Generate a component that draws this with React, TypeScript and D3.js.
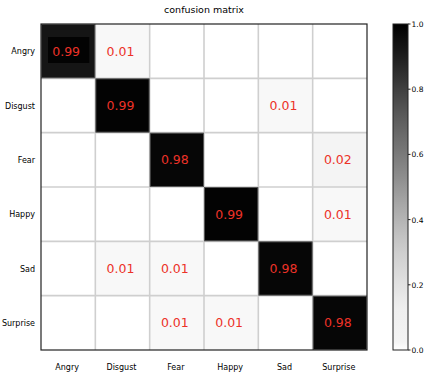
import React from "react";
import * as d3 from "d3";

const labels = ["Angry", "Disgust", "Fear", "Happy", "Sad", "Surprise"];
const matrix = [
  [0.99, 0.01, 0, 0, 0, 0],
  [0, 0.99, 0, 0, 0.01, 0],
  [0, 0, 0.98, 0, 0, 0.02],
  [0, 0, 0, 0.99, 0, 0.01],
  [0, 0.01, 0.01, 0, 0.98, 0],
  [0, 0, 0.01, 0.01, 0, 0.98],
];
const cbarTicks = [0, 0.2, 0.4, 0.6, 0.8, 1.0];

const W = 426;
const H = 379;
const plot = { left: 41, top: 24, right: 367, bottom: 350 };
const cbar = { left: 393, right: 408 };
const FONT = "DejaVu Sans, sans-serif";

// Greys colormap, with the low end stretched so faint cells still read as tinted
const lowEnd = d3
  .scaleLinear<string>()
  .domain([0, 0.01, 0.02, 0.125])
  .range(["#ffffff", "#f8f8f8", "#f4f4f4", d3.interpolateGreys(0.125)])
  .interpolate(d3.interpolateRgb);
const color = (v: number) => (v < 0.125 ? lowEnd(v) : d3.interpolateGreys(v));

export default function App() {
  const x = d3.scaleBand<string>().domain(labels).range([plot.left, plot.right]);
  const y = d3.scaleBand<string>().domain(labels).range([plot.top, plot.bottom]);
  const cy = d3.scaleLinear().domain([0, 1]).range([plot.bottom, plot.top]);
  const bw = x.bandwidth();
  const bh = y.bandwidth();

  const stops = d3.range(0, 1.0001, 0.025);

  return (
    <svg
      width={W}
      height={H}
      style={{ position: "absolute", left: 0, top: 0, background: "#fff" }}
      fontFamily={FONT}
    >
      <defs>
        <linearGradient id="cbarGrad" x1="0" y1="1" x2="0" y2="0">
          {stops.map((s) => (
            <stop key={s} offset={s} stopColor={color(s)} />
          ))}
        </linearGradient>
      </defs>

      <text x={(plot.left + plot.right) / 2} y={13} textAnchor="middle" fontSize={9.5} fill="#000">
        confusion matrix
      </text>

      {/* cells */}
      {matrix.map((row, i) =>
        row.map((v, j) => (
          <rect
            key={`c${i}-${j}`}
            x={x(labels[j])}
            y={y(labels[i])}
            width={bw}
            height={bh}
            fill={color(i === 0 && j === 0 ? 0.93 : v)}
          />
        ))
      )}

      {/* grid lines between cells */}
      {labels.slice(1).map((l) => (
        <g key={`g${l}`}>
          <line x1={x(l)} x2={x(l)} y1={plot.top} y2={plot.bottom} stroke="#cfcfcf" strokeWidth={1.6} />
          <line x1={plot.left} x2={plot.right} y1={y(l)} y2={y(l)} stroke="#cfcfcf" strokeWidth={1.6} />
        </g>
      ))}

      {/* dark cells drawn over the grid */}
      {matrix.map((row, i) =>
        row.map((v, j) =>
          v > 0.5 ? (
            <rect
              key={`d${i}-${j}`}
              x={(x(labels[j]) as number) + 0.5}
              y={(y(labels[i]) as number) + 0.5}
              width={bw - 1}
              height={bh - 1}
              fill={color(i === 0 && j === 0 ? 0.93 : v)}
              stroke="#555"
              strokeWidth={1}
            />
          ) : null
        )
      )}

      {/* text background box on the first cell */}
      <rect
        x={(x(labels[0]) as number) + 7}
        y={(y(labels[0]) as number) + 13}
        width={bw - 13}
        height={26}
        fill="#030303"
      />

      {/* frame */}
      <rect
        x={plot.left}
        y={plot.top}
        width={plot.right - plot.left}
        height={plot.bottom - plot.top}
        fill="none"
        stroke="#222"
        strokeWidth={1.2}
      />

      {/* values */}
      {matrix.map((row, i) =>
        row.map((v, j) =>
          v > 0 ? (
            <text
              key={`t${i}-${j}`}
              x={(x(labels[j]) as number) + bw / 2 - 2}
              y={(y(labels[i]) as number) + bh / 2 + 4.5}
              textAnchor="middle"
              fontSize={12.5}
              fill="#ec3228"
            >
              {v.toFixed(2)}
            </text>
          ) : null
        )
      )}

      {/* y labels */}
      {labels.map((l) => (
        <text
          key={`yl${l}`}
          x={plot.left - 6}
          y={(y(l) as number) + bh / 2 + 3}
          textAnchor="end"
          fontSize={8}
          fill="#000"
        >
          {l}
        </text>
      ))}

      {/* x labels */}
      {labels.map((l) => (
        <text
          key={`xl${l}`}
          x={(x(l) as number) + bw / 2 - 1}
          y={370}
          textAnchor="middle"
          fontSize={8}
          fill="#000"
        >
          {l}
        </text>
      ))}

      {/* colorbar */}
      <rect
        x={cbar.left}
        y={plot.top}
        width={cbar.right - cbar.left}
        height={plot.bottom - plot.top}
        fill="url(#cbarGrad)"
        stroke="#222"
        strokeWidth={1}
      />
      {cbarTicks.map((t) => (
        <g key={`ct${t}`}>
          <line x1={cbar.right} x2={cbar.right + 2.5} y1={cy(t)} y2={cy(t)} stroke="#222" strokeWidth={1} />
          <text x={cbar.right + 3.5} y={cy(t) + 3} fontSize={7.5} fill="#000">
            {t.toFixed(1)}
          </text>
        </g>
      ))}
    </svg>
  );
}
